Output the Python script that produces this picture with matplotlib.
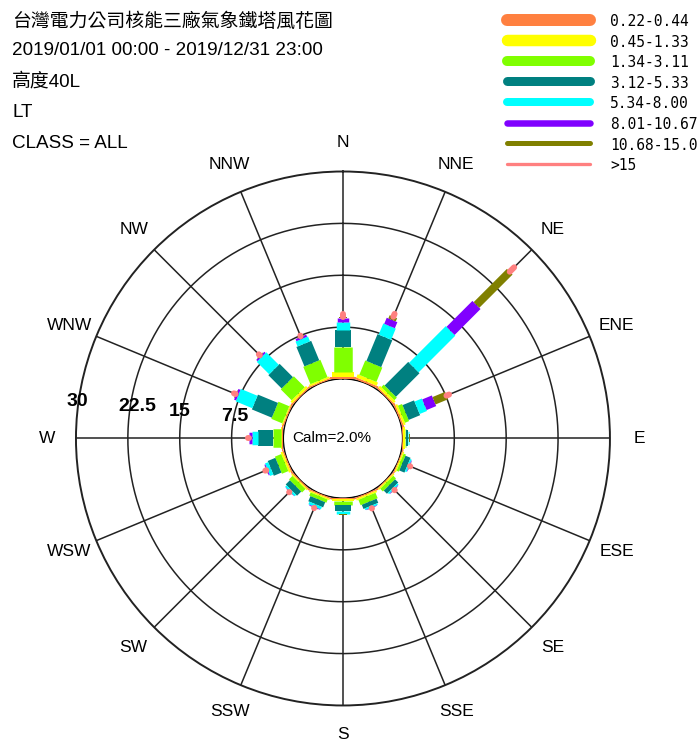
import numpy as np
import matplotlib
matplotlib.use('Agg')
import matplotlib.pyplot as plt

# 16 wind directions, clockwise from north
directions = ['N', 'NNE', 'NE', 'ENE', 'E', 'ESE', 'SE', 'SSE',
              'S', 'SSW', 'SW', 'WSW', 'W', 'WNW', 'NW', 'NNW']

# speed classes (m/s) and colours
classes = ['0.22-0.44', '0.45-1.33', '1.34-3.11', '3.12-5.33',
           '5.34-8.00', '8.01-10.67', '10.68-15.00', '>15']
colors = ['#FF8040', '#FFFF00', '#80FF00', '#008080',
          '#00FFFF', '#8000FF', '#808000', '#FF8080']

# frequency (%) of each speed class per direction
spd_022_044 = [0.33, 0.30, 0.22, 0.25, 0.15, 0.15, 0.15, 0.20,
               0.20, 0.20, 0.20, 0.20, 0.15, 0.20, 0.20, 0.20]
spd_045_133 = [0.72, 0.50, 0.36, 0.30, 0.15, 0.20, 0.20, 0.25,
               0.25, 0.20, 0.20, 0.30, 0.15, 0.15, 0.35, 0.25]
spd_134_311 = [3.60, 2.25, 0.50, 0.65, 0.25, 0.35, 0.55, 0.85,
               0.60, 0.50, 0.70, 1.00, 1.17, 1.70, 2.23, 2.71]
spd_312_533 = [2.40, 4.20, 4.82, 1.80, 0.30, 0.80, 0.65, 0.65,
               0.90, 0.80, 0.85, 1.20, 2.17, 3.13, 2.72, 3.04]
spd_534_800 = [1.20, 1.75, 7.50, 1.15, 0.10, 0.25, 0.25, 0.25,
               0.30, 0.40, 0.30, 0.50, 0.95, 2.60, 2.55, 0.77]
spd_801_1067 = [0.50, 0.95, 5.30, 1.50, 0.05, 0.08, 0.08, 0.07,
                0.10, 0.10, 0.05, 0.15, 0.35, 0.32, 0.25, 0.33]
spd_1068_1500 = [0.23, 0.50, 6.80, 1.95, 0.05, 0.05, 0.05, 0.03,
                 0.05, 0.05, 0.05, 0.05, 0.06, 0.10, 0.10, 0.10]
spd_over15 = [0.35, 0.45, 0.90, 0.40, 0.05, 0.05, 0.05, 0.05,
              0.05, 0.05, 0.05, 0.15, 0.10, 0.25, 0.20, 0.10]
calm = 2.0

rings = [7.5, 15, 22.5, 30]
ring_labels = ['7.5', '15', '22.5', '30']

freq = np.array([spd_022_044, spd_045_133, spd_134_311, spd_312_533,
                 spd_534_800, spd_801_1067, spd_1068_1500, spd_over15])
cum = np.vstack([np.zeros(len(directions)), np.cumsum(freq, axis=0)])
angles = np.deg2rad(np.arange(len(directions)) * 22.5)

px = 0.72  # points per pixel at dpi 100
bar_px = [26, 22, 18.5, 16, 13.5, 11.5, 8, 6]
leg_px = [12, 11.5, 10, 9, 8, 6.5, 5, 3.3]

fig = plt.figure(figsize=(6.97, 7.42), dpi=100)
fig.patch.set_facecolor('white')

ax = fig.add_axes([0.1090, 0.0492, 0.7661, 0.7197], projection='polar')
ax.set_theta_zero_location('N')
ax.set_theta_direction(-1)
ax.set_ylim(0, 30)
ax.set_rorigin(-8.6)
ax.grid(False)
ax.set_xticks([])
ax.set_yticks([])
ax.spines['polar'].set_linewidth(1.4)
ax.spines['polar'].set_color('#222222')
ax.spines['inner'].set_visible(False)

# rings and spokes
th = np.linspace(0, 2 * np.pi, 500)
for rv in [0] + rings[:-1]:
    ax.plot(th, np.full_like(th, rv), color='#222222', lw=1.1, zorder=1)
for a in angles:
    ax.plot([a, a], [0, 30], color='#222222', lw=1.1, zorder=1)

# stacked bars
for k in range(len(classes)):
    cap = 'round' if k == len(classes) - 1 else 'butt'
    for i, a in enumerate(angles):
        if freq[k, i] <= 0:
            continue
        ax.plot([a, a], [cum[k, i], cum[k + 1, i]], color=colors[k],
                lw=bar_px[k] * px, solid_capstyle=cap, zorder=3 + k)

# direction labels
for name, a in zip(directions, angles):
    ax.text(a, 34.2, name, ha='center', va='center', fontsize=12.5,
            family='Liberation Sans', clip_on=False)

# ring labels along the west spoke
offs = {'7.5': (3, 22), '15': (0, 27), '22.5': (9, 32), '30': (1.5, 37)}
for rv, lab in zip(rings, ring_labels):
    dx, dy = offs[lab]
    ax.annotate(lab, xy=(np.deg2rad(270), rv), xytext=(dx * px, dy * px),
                textcoords='offset points', ha='center', va='center',
                fontsize=14, fontweight='bold', family='Liberation Sans',
                annotation_clip=False)

ax.text(0.479, 0.5, f'Calm={calm:.1f}%', transform=ax.transAxes,
        ha='center', va='center', fontsize=11, family='Liberation Sans')

# header and legend in pixel coordinates
lax = fig.add_axes([0, 0, 1, 1])
lax.set_xlim(0, 697)
lax.set_ylim(742, 0)
lax.axis('off')

fam = ['Liberation Sans', 'Noto Sans CJK TC']
header = ['台灣電力公司核能三廠氣象鐵塔風花圖',
          '2019/01/01 00:00 - 2019/12/31 23:00',
          '高度40L', 'LT', 'CLASS = ALL']
base_y = [27, 55, 87, 117, 148]
for txt, y in zip(header, base_y):
    lax.text(12, y, txt, va='baseline', ha='left', fontsize=13.6, family=fam)

for i, (lab, col) in enumerate(zip(classes, colors)):
    y = 19.5 + 20.6 * i
    lax.plot([507, 590], [y, y], color=col, lw=leg_px[i] * px,
             solid_capstyle='round')
    lax.text(610, y + 6.6, lab, va='baseline', ha='left', fontsize=10.5,
             family='DejaVu Sans Mono')

fig.savefig('out.png', dpi=100)
